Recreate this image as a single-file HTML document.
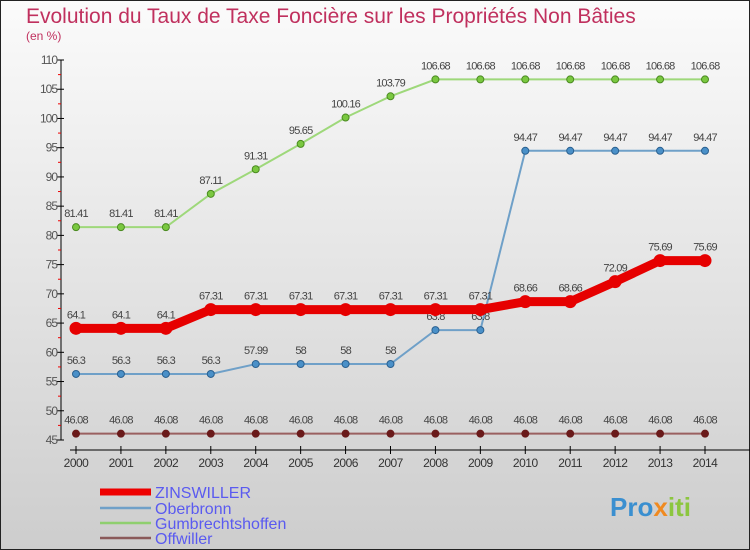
<!DOCTYPE html>
<html><head><meta charset="utf-8"><style>
body{margin:0}
svg{display:block;font-family:"Liberation Sans",sans-serif}
</style></head><body>
<svg width="750" height="550">
<defs><linearGradient id="bg" x1="0" y1="0" x2="0" y2="1"><stop offset="0" stop-color="#fbfbfb"/><stop offset="1" stop-color="#cdcdcd"/></linearGradient></defs>
<rect x="0.5" y="0.5" width="749" height="549" fill="url(#bg)" stroke="#222"/>
<text x="26" y="23" font-size="21" fill="#c0305e">Evolution du Taux de Taxe Foncière sur les Propriétés Non Bâties</text>
<text x="26" y="40" font-size="12" fill="#c0305e">(en %)</text>
<g id="axes"></g><g id="series"></g>
<g>
<line x1="100" y1="492" x2="151" y2="492" stroke="#e00" stroke-width="7"/>
<text x="155" y="498" font-size="16" fill="#5a5af0">ZINSWILLER</text>
<line x1="100" y1="508" x2="151" y2="508" stroke="#6fa0c8" stroke-width="2.5"/>
<text x="155" y="514" font-size="16" fill="#5a5af0">Oberbronn</text>
<line x1="100" y1="523" x2="151" y2="523" stroke="#8fcf6f" stroke-width="2.5"/>
<text x="155" y="529" font-size="16" fill="#5a5af0">Gumbrechtshoffen</text>
<line x1="100" y1="538" x2="151" y2="538" stroke="#8a5a5a" stroke-width="2.5"/>
<text x="155" y="544" font-size="16" fill="#5a5af0">Offwiller</text>
</g>
<text x="610" y="516" font-size="26" font-weight="bold" fill="#3a8fd0">Pro<tspan fill="#f08a20">x</tspan><tspan fill="#8cc63f">iti</tspan></text>
</svg>
<script>
const years=[2000,2001,2002,2003,2004,2005,2006,2007,2008,2009,2010,2011,2012,2013,2014];
const zinswiller=[64.1,64.1,64.1,67.31,67.31,67.31,67.31,67.31,67.31,67.31,68.66,68.66,72.09,75.69,75.69];
const oberbronn=[56.3,56.3,56.3,56.3,57.99,58,58,58,63.8,63.8,94.47,94.47,94.47,94.47,94.47];
const gumbrechtshoffen=[81.41,81.41,81.41,87.11,91.31,95.65,100.16,103.79,106.68,106.68,106.68,106.68,106.68,106.68,106.68];
const offwiller=[46.08,46.08,46.08,46.08,46.08,46.08,46.08,46.08,46.08,46.08,46.08,46.08,46.08,46.08,46.08];
const yTicks=[45,50,55,60,65,70,75,80,85,90,95,100,105,110];
const NS="http://www.w3.org/2000/svg";
const X=i=>76+i*(705-76)/(years.length-1);
const Y=v=>440-(v-45)*380/65;
function mk(t,a,p){const e=document.createElementNS(NS,t);for(const k in a)e.setAttribute(k,a[k]);p.appendChild(e);return e;}
const ax=document.getElementById('axes');
let yl=mk('line',{x1:61,y1:Y(110),x2:61,y2:Y(45),stroke:'#000'},ax);


yTicks.forEach(v=>{
 mk('line',{x1:57,y1:Y(v),x2:64,y2:Y(v),stroke:'#000'},ax);
 if(v<110) mk('line',{x1:58,y1:Y(v+2.5),x2:61,y2:Y(v+2.5),stroke:'#e00'},ax);
 const t=mk('text',{x:57,y:Y(v)+4,'text-anchor':'end','font-size':12,fill:'#555','letter-spacing':'-1'},ax);
 t.textContent=v;
 
 
});
let xl=mk('line',{x1:70,y1:450,x2:750,y2:450,stroke:'#000'},ax);


years.forEach((y,i)=>{
 mk('line',{x1:X(i),y1:446,x2:X(i),y2:454,stroke:'#000'},ax);
 const t=mk('text',{x:X(i),y:467,'text-anchor':'middle','font-size':12,fill:'#333','letter-spacing':'-0.5'},ax);
 t.textContent=y;
 
 
});
const sg=document.getElementById('series');
function series(name,vals,color,w,r,dot,dotStroke){
 const g=mk('g',{},sg);
 
 
 const p=mk('polyline',{points:vals.map((v,i)=>X(i)+','+Y(v)).join(' '),fill:'none',stroke:color,'stroke-width':w},g);
 
 
 vals.forEach((v,i)=>{
  const c=mk('circle',{cx:X(i),cy:Y(v),r:r,fill:dot,stroke:dotStroke,'stroke-width':1},g);
  
  
  const t=mk('text',{x:X(i),y:Y(v)-10,'text-anchor':'middle','font-size':11,fill:'#444','letter-spacing':'-0.8'},g);
  t.textContent=v;
  
  
 });
}
series('offwiller',offwiller,'#9a6060',2,3.5,'#6a1a1a','#6a1a1a');
series('gumbrechtshoffen',gumbrechtshoffen,'#9ed87a',2,3.5,'#7ac840','#4a8a20');
series('oberbronn',oberbronn,'#6fa0c8',2,3.5,'#4a90c8','#2a6090');
series('zinswiller',zinswiller,'#e60000',9,6,'#e60000','#e60000');
</script>
</body></html>
